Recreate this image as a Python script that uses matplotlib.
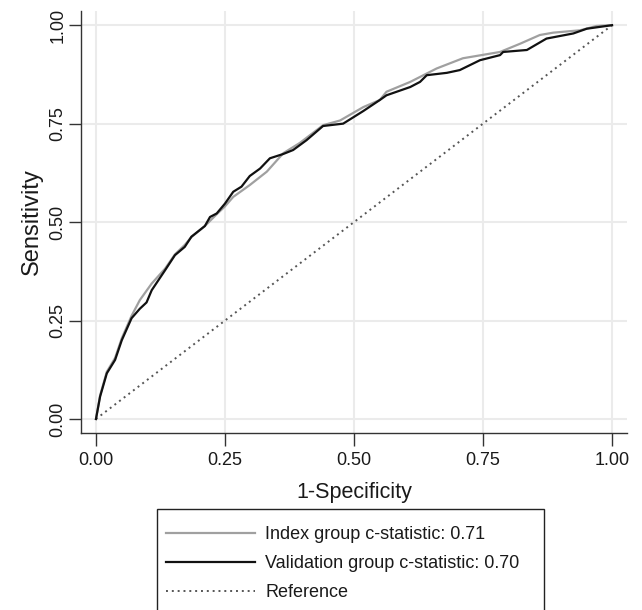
import matplotlib
matplotlib.use("Agg")
import matplotlib.pyplot as plt
from matplotlib.patches import Rectangle

matplotlib.rcParams['font.family'] = ['Liberation Sans', 'DejaVu Sans']

# ROC curve points (1-specificity, sensitivity)
val_fpr = [0.000, 0.008, 0.021, 0.037, 0.050, 0.069, 0.085, 0.098, 0.108, 0.134,
           0.153, 0.172, 0.185, 0.211, 0.221, 0.234, 0.250, 0.266, 0.282, 0.298,
           0.318, 0.337, 0.363, 0.382, 0.408, 0.440, 0.479, 0.518, 0.550, 0.563,
           0.609, 0.628, 0.641, 0.680, 0.705, 0.744, 0.783, 0.789, 0.835, 0.873,
           0.925, 0.951, 1.000]
val_tpr = [0.000, 0.057, 0.116, 0.150, 0.200, 0.256, 0.280, 0.296, 0.327, 0.378,
           0.416, 0.437, 0.463, 0.490, 0.513, 0.522, 0.547, 0.577, 0.590, 0.617,
           0.636, 0.662, 0.673, 0.683, 0.708, 0.744, 0.750, 0.782, 0.810, 0.822,
           0.843, 0.856, 0.873, 0.879, 0.886, 0.911, 0.924, 0.932, 0.937, 0.966,
           0.979, 0.991, 1.000]

idx_fpr = [0.000, 0.008, 0.021, 0.037, 0.050, 0.069, 0.085, 0.108, 0.134, 0.153,
           0.172, 0.185, 0.211, 0.234, 0.250, 0.266, 0.298, 0.331, 0.363, 0.395,
           0.440, 0.473, 0.518, 0.550, 0.563, 0.609, 0.660, 0.711, 0.783, 0.822,
           0.860, 0.886, 0.938, 0.970, 1.000]
idx_tpr = [0.000, 0.060, 0.120, 0.155, 0.205, 0.262, 0.302, 0.344, 0.382, 0.418,
           0.442, 0.462, 0.490, 0.520, 0.540, 0.564, 0.594, 0.628, 0.675, 0.701,
           0.746, 0.758, 0.792, 0.810, 0.831, 0.856, 0.890, 0.916, 0.932, 0.953,
           0.975, 0.981, 0.987, 0.998, 1.000]

ref_x = [0.0, 1.0]
ref_y = [0.0, 1.0]

labels = ["Index group c-statistic: 0.71",
          "Validation group c-statistic: 0.70",
          "Reference"]
ticks = [0.0, 0.25, 0.5, 0.75, 1.0]
tick_labels = ["0.00", "0.25", "0.50", "0.75", "1.00"]

AX_COL = "#333333"
GRID_COL = "#ebebeb"
TXT_COL = "#1a1a1a"

fig = plt.figure(figsize=(6.42, 6.10), dpi=100)
ax = fig.add_axes([81 / 642, 1 - 433 / 610, (627 - 81) / 642, (433 - 11) / 610])

l1, = ax.plot(idx_fpr, idx_tpr, color="#a0a0a0", linewidth=1.6, zorder=3)
l2, = ax.plot(val_fpr, val_tpr, color="#111111", linewidth=1.6, zorder=4)
l3, = ax.plot(ref_x, ref_y, color="#555555", linewidth=1.4, linestyle=(0, (1, 2)), zorder=2)

ax.set_xlim(-0.029, 1.029)
ax.set_ylim(-0.0355, 1.036)
ax.set_xticks(ticks)
ax.set_xticklabels(tick_labels)
ax.set_yticks(ticks)
ax.set_yticklabels(tick_labels, rotation=90, va="center")
ax.grid(True, color=GRID_COL, linewidth=1.5)
ax.set_axisbelow(True)

for side in ["top", "right"]:
    ax.spines[side].set_visible(False)
for side in ["left", "bottom"]:
    ax.spines[side].set_color(AX_COL)
    ax.spines[side].set_linewidth(1.0)

ax.tick_params(axis="both", direction="out", length=9, width=1.0, color=AX_COL,
               labelsize=13, labelcolor=TXT_COL)
ax.tick_params(axis="x", pad=5)
ax.tick_params(axis="y", pad=1.5)

ax.set_xlabel("1-Specificity", fontsize=15.5, color=TXT_COL, labelpad=9)
ax.set_ylabel("Sensitivity", fontsize=17, color=TXT_COL, labelpad=5)

# legend box runs off the bottom edge, as in the reference
fig.patches.append(Rectangle((157 / 642, -0.05), (544 - 157) / 642, 1 - 509 / 610 + 0.05,
                             transform=fig.transFigure, facecolor="white",
                             edgecolor="#222222", linewidth=1.0))

leg = fig.legend([l1, l2, l3], labels,
                 loc="upper left",
                 bbox_to_anchor=(157 / 642, 1 - 517 / 610),
                 fontsize=13, frameon=False, handlelength=4.9, handletextpad=0.6,
                 labelspacing=0.66, borderpad=0.5, borderaxespad=0.0)
for t in leg.get_texts():
    t.set_color(TXT_COL)

fig.savefig("out.png", dpi=100)
